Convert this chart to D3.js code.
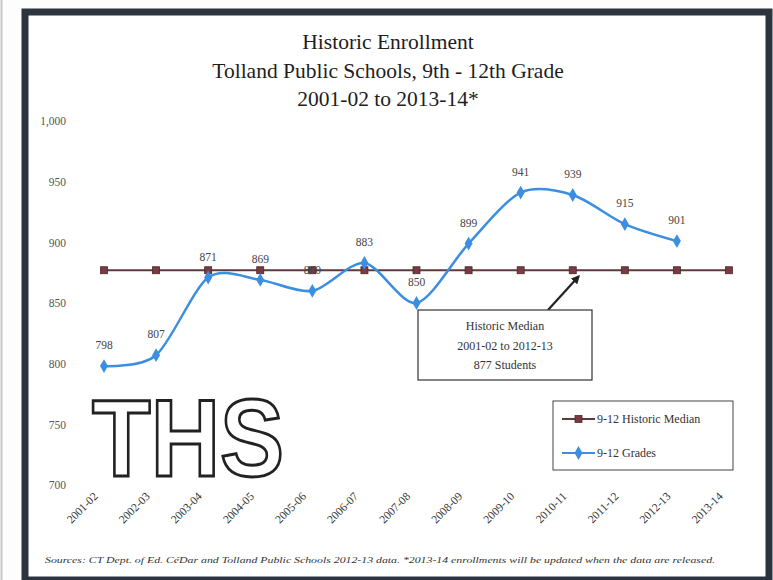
<!DOCTYPE html>
<html>
<head>
<meta charset="utf-8">
<script src="https://cdn.jsdelivr.net/npm/d3@7"></script>
<style>
  body { margin: 0; background: #fff; }
  svg { display: block; }
</style>
</head>
<body>
<svg width="773" height="580"></svg>
<script>
var years = ["2001-02", "2002-03", "2003-04", "2004-05", "2005-06", "2006-07", "2007-08",
             "2008-09", "2009-10", "2010-11", "2011-12", "2012-13", "2013-14"];
var grades = [798, 807, 871, 869, 860, 883, 850, 899, 941, 939, 915, 901];
var median = [877, 877, 877, 877, 877, 877, 877, 877, 877, 877, 877, 877, 877];
var yTicks = [700, 750, 800, 850, 900, 950, 1000];
var titleLines = ["Historic Enrollment", "Tolland Public Schools, 9th - 12th Grade", "2001-02 to 2013-14*"];
var noteLines = ["Historic Median", "2001-02 to 2012-13", "877 Students"];
var legendNames = ["9-12 Historic Median", "9-12 Grades"];

var svg = d3.select("svg");
var serif = "Liberation Serif";

// scanned frame
svg.append("rect").attr("x", 0).attr("y", 0).attr("width", 773).attr("height", 580).attr("fill", "#fdfdfd");
svg.append("line").attr("x1", 1.5).attr("x2", 1.5).attr("y1", 0).attr("y2", 580)
    .attr("stroke", "#c8c8c8").attr("stroke-width", 2);
svg.append("rect").attr("x", 25).attr("y", 12).attr("width", 744).attr("height", 568)
    .attr("fill", "#fff").attr("stroke", "#2c3440").attr("stroke-width", 7);

var x = d3.scalePoint().domain(years).range([104, 729]);
var y = d3.scaleLinear().domain([700, 1000]).range([485, 121]);

// title
svg.append("g").selectAll("text")
    .data(titleLines)
    .enter().append("text")
    .attr("x", 388)
    .attr("y", function (d, i) { return 49 + i * 28.5; })
    .attr("text-anchor", "middle")
    .style("font-family", serif)
    .style("font-size", "21.5px")
    .attr("fill", "#1e1e1e")
    .text(function (d) { return d; });

// y axis labels (no line, no ticks)
var yAxis = svg.append("g")
    .attr("transform", "translate(66,0)")
    .call(d3.axisLeft(y).tickValues(yTicks).tickSize(0).tickPadding(0).tickFormat(d3.format(",")));
yAxis.select(".domain").remove();
yAxis.selectAll("text")
    .style("font-family", serif)
    .style("font-size", "11.5px")
    .attr("fill", "#555");

// x axis labels, rotated
var xAxis = svg.append("g")
    .attr("transform", "translate(0,485)")
    .call(d3.axisBottom(x).tickSize(0).tickPadding(0));
xAxis.select(".domain").remove();
xAxis.selectAll("text")
    .style("font-family", serif)
    .style("font-size", "11.5px")
    .attr("fill", "#333")
    .attr("text-anchor", "end")
    .attr("dy", 0)
    .attr("transform", "translate(-6,12) rotate(-45)");

// THS logo
svg.append("text")
    .attr("x", 92)
    .attr("y", 476)
    .style("font-family", "Liberation Sans")
    .style("font-weight", "bold")
    .style("font-size", "110px")
    .attr("textLength", 192)
    .attr("lengthAdjust", "spacingAndGlyphs")
    .attr("fill", "#fff")
    .attr("stroke", "#222")
    .attr("stroke-width", 3)
    .text("THS");

// median line
var medLine = d3.line()
    .x(function (d, i) { return x(years[i]); })
    .y(function (d) { return y(d); });

svg.append("path")
    .datum(median)
    .attr("d", medLine)
    .attr("fill", "none")
    .attr("stroke", "#5e3a3c")
    .attr("stroke-width", 2);

svg.append("g").selectAll("rect")
    .data(median)
    .enter().append("rect")
    .attr("x", function (d, i) { return x(years[i]) - 3.5; })
    .attr("y", function (d) { return y(d) - 3.5; })
    .attr("width", 7)
    .attr("height", 7)
    .attr("fill", "#7a3a44")
    .attr("stroke", "#4a2a2a")
    .attr("stroke-width", 0.8);

// grades line (smoothed)
var gradeLine = d3.line()
    .x(function (d, i) { return x(years[i]); })
    .y(function (d) { return y(d); })
    .curve(d3.curveCardinal.tension(0.15));

svg.append("path")
    .datum(grades)
    .attr("d", gradeLine)
    .attr("fill", "none")
    .attr("stroke", "#3b8ee0")
    .attr("stroke-width", 2.5);

var diamond = d3.symbol().type(d3.symbolDiamond).size(55);
svg.append("g").selectAll("path")
    .data(grades)
    .enter().append("path")
    .attr("d", diamond)
    .attr("transform", function (d, i) { return "translate(" + x(years[i]) + "," + y(d) + ")"; })
    .attr("fill", "#3b8ee0");

svg.append("g").selectAll("text")
    .data(grades)
    .enter().append("text")
    .attr("x", function (d, i) { return x(years[i]); })
    .attr("y", function (d) { return y(d) - 17; })
    .attr("text-anchor", "middle")
    .style("font-family", serif)
    .style("font-size", "11.5px")
    .attr("fill", "#444")
    .text(function (d) { return d; });

// annotation box + arrow
svg.append("defs").append("marker")
    .attr("id", "arr")
    .attr("viewBox", "0 0 10 10")
    .attr("refX", 8).attr("refY", 5)
    .attr("markerWidth", 4).attr("markerHeight", 4)
    .attr("orient", "auto")
    .append("path").attr("d", "M0,0L10,5L0,10z").attr("fill", "#222");

svg.append("line")
    .attr("x1", 548).attr("y1", 310)
    .attr("x2", x(years[9]) + 6).attr("y2", y(877) + 6)
    .attr("stroke", "#222")
    .attr("stroke-width", 2.2)
    .attr("marker-end", "url(#arr)");

svg.append("rect")
    .attr("x", 418).attr("y", 310).attr("width", 174).attr("height", 70)
    .attr("fill", "#fff").attr("stroke", "#333").attr("stroke-width", 1.2);

svg.append("g").selectAll("text")
    .data(noteLines)
    .enter().append("text")
    .attr("x", 505)
    .attr("y", function (d, i) { return 330 + i * 19.5; })
    .attr("text-anchor", "middle")
    .style("font-family", serif)
    .style("font-size", "12px")
    .attr("fill", "#333")
    .text(function (d) { return d; });

// legend
var lg = svg.append("g");
lg.append("rect")
    .attr("x", 553).attr("y", 401).attr("width", 180).attr("height", 69)
    .attr("fill", "#fff").attr("stroke", "#444").attr("stroke-width", 1);

var legItems = lg.selectAll("g.item")
    .data(legendNames)
    .enter().append("g")
    .attr("class", "item")
    .attr("transform", function (d, i) { return "translate(0," + (419 + i * 34) + ")"; });

legItems.append("line")
    .attr("x1", 562).attr("x2", 595).attr("y1", 0).attr("y2", 0)
    .attr("stroke", function (d, i) { return i === 0 ? "#5e3a3c" : "#3b8ee0"; })
    .attr("stroke-width", 2);
legItems.each(function (d, i) {
    var g = d3.select(this);
    if (i === 0) {
        g.append("rect").attr("x", 575).attr("y", -3.5).attr("width", 7).attr("height", 7)
            .attr("fill", "#7a3a44").attr("stroke", "#4a2a2a").attr("stroke-width", 0.8);
    } else {
        g.append("path").attr("d", diamond).attr("transform", "translate(578.5,0)").attr("fill", "#3b8ee0");
    }
});
legItems.append("text")
    .attr("x", 597).attr("y", 4)
    .style("font-family", serif)
    .style("font-size", "12px")
    .attr("fill", "#333")
    .text(function (d) { return d; });

// source footnote
svg.append("text")
    .attr("x", 45).attr("y", 563)
    .style("font-family", serif)
    .style("font-style", "italic")
    .style("font-size", "9px")
    .attr("fill", "#333")
    .attr("textLength", 670)
    .attr("lengthAdjust", "spacingAndGlyphs")
    .text("Sources: CT Dept. of Ed. CéDar and Tolland Public Schools 2012-13 data.  *2013-14 enrollments will be updated when the data are released.");
</script>
</body>
</html>
